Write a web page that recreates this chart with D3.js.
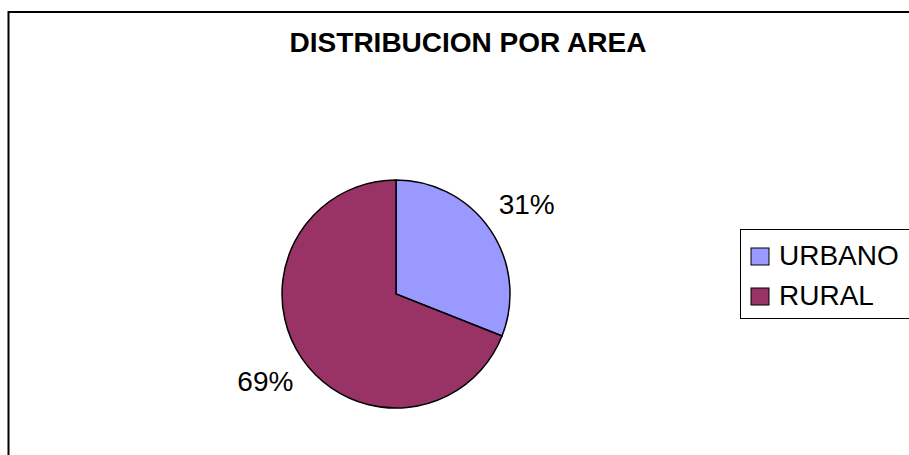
<!DOCTYPE html>
<html lang="es">
<head>
<meta charset="UTF-8" />
<title>Distribucion por area</title>
<script src="https://cdn.jsdelivr.net/npm/d3@7"></script>
<style>
  body { margin: 0; background: #fff; }
  text { font-family: "Liberation Sans", Arial, sans-serif; fill: #000; }
</style>
</head>
<body>
<div id="chart"></div>
<script>
// data
const categories = ["URBANO", "RURAL"];
const values = [31, 69];
const colors = ["#9999FF", "#993366"];
const title = "DISTRIBUCION POR AREA";

const width = 909, height = 455;
const cx = 396, cy = 294, radius = 114;

const svg = d3.select("#chart").append("svg")
  .attr("width", width)
  .attr("height", height);

// outer chart border (right/bottom edges fall outside the view)
svg.append("rect")
  .attr("x", 8.5).attr("y", 12)
  .attr("width", width + 20).attr("height", height + 20)
  .attr("fill", "#fff")
  .attr("stroke", "#000")
  .attr("stroke-width", 2);

svg.append("text")
  .attr("x", 468).attr("y", 52)
  .attr("text-anchor", "middle")
  .style("font-size", "28px")
  .style("font-weight", "bold")
  .text(title);

const color = d3.scaleOrdinal().domain(categories).range(colors);

const pie = d3.pie().sort(null).value(d => d.value);
const data = categories.map((c, i) => ({ name: c, value: values[i] }));
const arcs = pie(data);

const arc = d3.arc().innerRadius(0).outerRadius(radius);
const labelArc = d3.arc().innerRadius(158).outerRadius(158);

const g = svg.append("g").attr("transform", `translate(${cx},${cy})`);

g.selectAll("path")
  .data(arcs)
  .join("path")
  .attr("d", arc)
  .attr("fill", d => color(d.data.name))
  .attr("stroke", "#000")
  .attr("stroke-width", 1.5);

const total = d3.sum(values);
g.selectAll("text.pct")
  .data(arcs)
  .join("text")
  .attr("class", "pct")
  .attr("transform", d => `translate(${labelArc.centroid(d)})`)
  .attr("text-anchor", "middle")
  .attr("dy", "0.3em")
  .style("font-size", "28px")
  .text(d => Math.round(d.data.value / total * 100) + "%");

// legend
const legend = svg.append("g");
legend.append("rect")
  .attr("x", 740.5).attr("y", 229.5)
  .attr("width", 200).attr("height", 89)
  .attr("fill", "#fff")
  .attr("stroke", "#000")
  .attr("stroke-width", 1);

const item = legend.selectAll("g.item")
  .data(categories)
  .join("g")
  .attr("class", "item")
  .attr("transform", (d, i) => `translate(751,${248 + i * 40})`);

item.append("rect")
  .attr("width", 18).attr("height", 17)
  .attr("fill", d => color(d))
  .attr("stroke", "#000")
  .attr("stroke-width", 1);

item.append("text")
  .attr("x", 28).attr("y", 17)
  .style("font-size", "28px")
  .text(d => d);
</script>
</body>
</html>
